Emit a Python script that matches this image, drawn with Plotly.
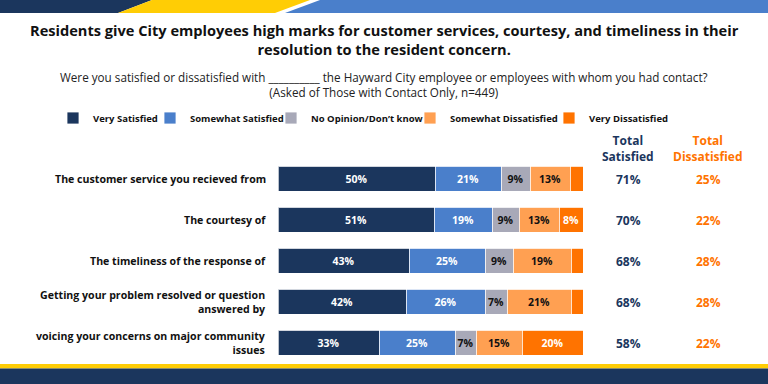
import plotly.graph_objects as go

# ---- data ----
categories = [
    "The customer service you recieved from",
    "The courtesy of",
    "The timeliness of the response of",
    "Getting your problem resolved or question<br>answered by",
    "voicing your concerns on major community<br>issues",
]
series_names = ["Very Satisfied", "Somewhat Satisfied", "No Opinion/Don\u2019t know",
                "Somewhat Dissatisfied", "Very Dissatisfied"]
very_satisfied = [50, 51, 43, 42, 33]
somewhat_satisfied = [21, 19, 25, 26, 25]
no_opinion = [9, 9, 9, 7, 7]
somewhat_dissatisfied = [13, 13, 19, 21, 15]
very_dissatisfied = [4, 8, 4, 4, 20]
total_satisfied = [71, 70, 68, 68, 58]
total_dissatisfied = [25, 22, 28, 28, 22]

title_line = ("Residents give City employees high marks for customer services, courtesy, and timeliness in their"
              "<br>resolution to the resident concern.")
subtitle = ("Were you satisfied or dissatisfied with __________ the Hayward City employee or employees with whom you had contact?"
            "<br>(Asked of Those with Contact Only, n=449)")

# ---- styles ----
W, H = 768, 384
NAVY = "#1b365d"
BLUE = "#4a7fcb"
GREY = "#a8a9b8"
LORANGE = "#ffa052"
ORANGE = "#ff7300"
YELLOW = "#ffcd05"
colors = [NAVY, BLUE, GREY, LORANGE, ORANGE]
text_colors = ["white", "white", "#111111", "#111111", "white"]
legend_left_px = [53, 150, 271, 410, 549]
FONT = "Open Sans"

def px_x(p):
    return p / W

def px_y(p):
    return 1 - p / H

series = [very_satisfied, somewhat_satisfied, no_opinion, somewhat_dissatisfied, very_dissatisfied]
ypos = list(range(len(categories)))

fig = go.Figure()
legend_layout = {}
for k, (name, vals, c, tc) in enumerate(zip(series_names, series, colors, text_colors)):
    lname = "legend" if k == 0 else f"legend{k + 1}"
    fig.add_trace(go.Bar(
        name=name,
        y=ypos,
        x=vals,
        orientation="h",
        marker=dict(color=c, line=dict(color="white", width=0.8)),
        text=[f"{v}%" if v >= 5 else "" for v in vals],
        textposition="inside",
        insidetextanchor="middle",
        textangle=0,
        constraintext="none",
        textfont=dict(family=FONT, size=10.5, color=tc, weight="bold"),
        width=0.61,
        hoverinfo="skip",
        legend=lname,
    ))
    legend_layout[lname] = dict(
        orientation="h", x=px_x(legend_left_px[k]), y=px_y(118), xanchor="left", yanchor="middle",
        font=dict(family=FONT, size=9.5, color="#111111", weight="bold"),
        bgcolor="rgba(0,0,0,0)", borderwidth=0,
    )

annotations = []
# title and subtitle
annotations.append(dict(text=title_line, x=0.5, y=px_y(40), xref="paper", yref="paper",
                        xanchor="center", yanchor="middle", showarrow=False, align="center",
                        font=dict(family=FONT, size=14.6, color="#111111", weight="bold")))
annotations.append(dict(text=subtitle, x=0.5, y=px_y(85), xref="paper", yref="paper",
                        xanchor="center", yanchor="middle", showarrow=False, align="center",
                        font=dict(family=FONT, size=11.7, color="#222222")))
# category labels
for i, cat in enumerate(categories):
    annotations.append(dict(text=cat, x=px_x(268), y=i, xref="paper", yref="y",
                            xanchor="right", yanchor="middle", showarrow=False, align="right",
                            font=dict(family=FONT, size=10.6, color="#111111", weight="bold")))
# totals headers
annotations.append(dict(text="Total<br>Satisfied", x=px_x(628), y=px_y(149), xref="paper", yref="paper",
                        xanchor="center", yanchor="middle", showarrow=False, align="center",
                        font=dict(family=FONT, size=12, color=NAVY, weight="bold")))
annotations.append(dict(text="Total<br>Dissatisfied", x=px_x(708), y=px_y(149), xref="paper", yref="paper",
                        xanchor="center", yanchor="middle", showarrow=False, align="center",
                        font=dict(family=FONT, size=12, color=ORANGE, weight="bold")))
for i in ypos:
    annotations.append(dict(text=f"{total_satisfied[i]}%", x=px_x(628), y=i, xref="paper", yref="y",
                            xanchor="center", yanchor="middle", showarrow=False,
                            font=dict(family=FONT, size=12, color=NAVY, weight="bold")))
    annotations.append(dict(text=f"{total_dissatisfied[i]}%", x=px_x(708), y=i, xref="paper", yref="y",
                            xanchor="center", yanchor="middle", showarrow=False,
                            font=dict(family=FONT, size=12, color=ORANGE, weight="bold")))

# decorative banners
def poly(pts):
    return "M " + " L ".join(f"{px_x(x)},{px_y(y)}" for x, y in pts) + " Z"

shapes = [
    dict(type="path", xref="paper", yref="paper", line=dict(width=0), fillcolor=NAVY,
         path=poly([(0, 0), (152, 0), (118, 13), (0, 13)])),
    dict(type="path", xref="paper", yref="paper", line=dict(width=0), fillcolor=YELLOW,
         path=poly([(152, 0), (310, 0), (275, 13), (118, 13)])),
    dict(type="path", xref="paper", yref="paper", line=dict(width=0), fillcolor=BLUE,
         path=poly([(320, 0), (768, 0), (768, 13), (285, 13)])),
    dict(type="rect", xref="paper", yref="paper", line=dict(width=0), fillcolor=YELLOW,
         x0=0, x1=1, y0=px_y(368.5), y1=px_y(364)),
    dict(type="rect", xref="paper", yref="paper", line=dict(width=0), fillcolor=NAVY,
         x0=0, x1=1, y0=0, y1=px_y(368.5)),
]

fig.update_layout(
    width=W, height=H,
    margin=dict(l=0, r=0, t=0, b=0),
    paper_bgcolor="white", plot_bgcolor="white",
    barmode="stack",
    barnorm="percent",
    bargap=0,
    showlegend=True,
    xaxis=dict(domain=[px_x(278.5), px_x(583.5)], range=[0, 100], visible=False, fixedrange=True),
    yaxis=dict(domain=[px_y(364), px_y(158.5)], range=[4.5, -0.5], visible=False, fixedrange=True),
    annotations=annotations,
    shapes=shapes,
    **legend_layout,
)

fig.write_html("out.html",
               config={"displayModeBar": False},
               post_script="document.body.style.margin='0';document.body.style.overflow='hidden';")
